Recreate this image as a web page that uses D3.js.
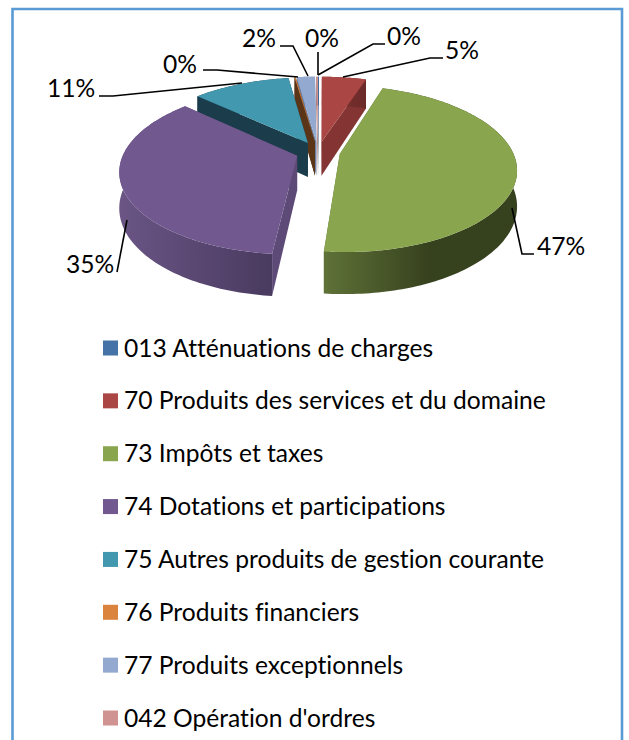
<!DOCTYPE html>
<html><head><meta charset="utf-8">
<script src="https://cdn.jsdelivr.net/npm/d3@7/dist/d3.min.js"></script>
<style>html,body{margin:0;padding:0;background:#fff}svg{display:block}text{font-family:Lato,"Open Sans",sans-serif;fill:#000;font-variant-ligatures:none}</style>
</head><body><svg id="c" width="629" height="740"></svg>
<script>
const categories=["013 Atténuations de charges","70 Produits des services et du domaine","73 Impôts et taxes","74 Dotations et participations","75 Autres produits de gestion courante","76 Produits financiers","77 Produits exceptionnels","042 Opération d'ordres"];
const values=[0.1,4.9,46.5,35.3,10.8,0.12,2.0,0.18];
const topColors=["#4572A7","#AA4643","#89A54E","#71588F","#4198AF","#DB843D","#93A9CF","#D19392"];
const faceColors=["#2c4868","#843533","#5a6b33","#5d4a77","#1b3d4b","#5a3518","#6f80a0","#a06f6e"];
const rimLight=["#34567c","#843533","#5f7238","#6a5585","#1b3d4b","#5a3518","#6f80a0","#a06f6e"];
const rimDark=["#2c4868","#6b2a28","#36411d","#493a5f","#1b3d4b","#5a3518","#6f80a0","#a06f6e"];
const percentLabels=["0%","5%","47%","35%","11%","0%","2%","0%"];
// label placement: [text x, text y, leader polyline]
const labelLayout=[
 [404,36,[[385,44],[373,44],[318,75]]],
 [462,50,[[443,58],[430,58],[343,77]]],
 [561,246,[[534,254],[522,254],[512,208]]],
 [90,264,[[117,272],[127,220]]],
 [71,88,[[99,96],[113,96],[242,83]]],
 [180,64,[[203,70],[217,70],[298,77]]],
 [259,38,[[280,46],[293,46],[308,76]]],
 [322,38,[[318,52],[318,75]]]
];
const svg=d3.select("#c");
svg.append("path").attr("d","M12.5 740V9H622V740").attr("fill","none").attr("stroke","#5B9BD5").attr("stroke-width",2.6);

const cx=318,cy=152,B=173,A=80,k=0.175,depth=34.5,explode=0.128;
const pie=d3.pie().sort(null).value(d=>d)(values);
const proj=(u,v,z=0)=>{const s=1/(1-k*v);return [cx+B*u*s,cy+A*v*s+z*s];};
const line=d3.line();
const defs=svg.append("defs");
const slices=pie.map((p,i)=>{
  const mid=(p.startAngle+p.endAngle)/2;
  const ox=explode*Math.sin(mid),oy=-explode*Math.cos(mid);
  const n=Math.max(2,Math.ceil((p.endAngle-p.startAngle)/0.02));
  const ang=d3.range(n+1).map(j=>p.startAngle+(p.endAngle-p.startAngle)*j/n);
  const rim=ang.map(a=>[ox+Math.sin(a),oy-Math.cos(a)]);
  return {i,ox,oy,rim};
});
const g=svg.append("g");
const order=[7,0,6,5,4,1,3,2];
order.forEach(i=>{
  const s=slices[i],c=[s.ox,s.oy];
  const top=s.rim.map(q=>proj(q[0],q[1]));
  const bot=s.rim.map(q=>proj(q[0],q[1],depth));
  const xs=d3.extent(top,d=>d[0]);
  const id="rim"+i;
  const gr=defs.append("linearGradient").attr("id",id).attr("gradientUnits","userSpaceOnUse").attr("x1",xs[0]).attr("x2",xs[1]).attr("y1",0).attr("y2",0);
  gr.append("stop").attr("offset",0).attr("stop-color",rimLight[i]);
  gr.append("stop").attr("offset",i==2?0.55:1).attr("stop-color",rimDark[i]);
  [s.rim[0],s.rim[s.rim.length-1]].forEach(q=>{
    const pts=[proj(c[0],c[1]),proj(q[0],q[1]),proj(q[0],q[1],depth),proj(c[0],c[1],depth)];
    g.append("path").attr("d",line(pts)+"Z").attr("fill",faceColors[i]);
  });
  g.append("path").attr("d",line(top.concat(bot.slice().reverse()))+"Z").attr("fill",`url(#${id})`);
  g.append("path").attr("d",line([proj(c[0],c[1])].concat(top))+"Z").attr("fill",topColors[i]);
});

const lab=svg.append("g");
labelLayout.forEach((l,i)=>{
  lab.append("path").attr("d",line(l[2])).attr("fill","none").attr("stroke","#000").attr("stroke-width",1.6);
  lab.append("text").attr("x",l[0]).attr("y",l[1]).attr("dy","0.35em").attr("text-anchor","middle").attr("font-size",24.6).text(percentLabels[i]);
});

const y=d3.scalePoint().domain(categories).range([348,718]);
const color=d3.scaleOrdinal().domain(categories).range(topColors);
const leg=svg.append("g").selectAll("g").data(categories).join("g").attr("transform",d=>`translate(0,${y(d)})`);
leg.append("rect").attr("x",103).attr("y",-7.5).attr("width",15).attr("height",15).attr("fill",d=>color(d));
leg.append("text").attr("x",124).attr("dy","0.35em").attr("font-size",24.6).text(d=>d);
</script></body></html>
